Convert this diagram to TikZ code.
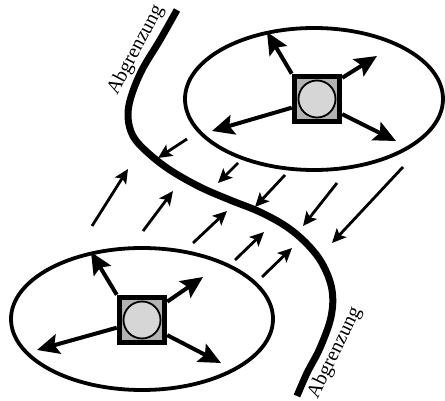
\documentclass[tikz,border=0pt]{standalone}
\usepackage{fontspec}
\setmainfont{Liberation Serif}
\usetikzlibrary{arrows.meta}
\begin{document}
\begin{tikzpicture}[x=1pt,y=-1pt,
  zone/.style={draw,line width=3.8pt},
  cell/.style={draw,line width=5.5pt,fill=gray!60,minimum size=45pt,inner sep=0pt,
    path picture={\draw[line width=1.8pt,fill=gray!32] (path picture bounding box.center) circle (18.5pt);}},
  push/.style={line width=4pt,-{Stealth[length=22pt,width=20pt,inset=4pt]}},
  flow/.style={line width=2.8pt,-{Stealth[length=14pt,width=13pt,inset=3pt]}},
  tag/.style={font=\fontsize{20}{20}\selectfont,inner sep=0pt}]
\useasboundingbox (0,0) rectangle (445,401);

% regions
\draw[zone] (314,99) ellipse [x radius=129, y radius=71];
\draw[zone] (142,319) ellipse [x radius=131, y radius=71];

% boundary line
\draw[line width=7pt] plot[smooth,tension=0.6] coordinates {
  (177,10) (160,40) (142,70) (131,97) (128,117) (133,136) (147,152)
  (170,170) (200,187) (230,200) (260,212) (287,227) (308,245)
  (323,265) (332,290) (331,317) (320,348) (307,373) (297,396)};

\node[tag,rotate=62] (lt) at (136,50) {Abgrenzung};
\node[tag,rotate=64] (lb) at (335,353) {Abgrenzung};

% centres with their outward pushes
\node[cell] (ba) at (317,99) {};
\node[cell] (bb) at (142,320) {};

\coordinate (a1) at (267,32);
\coordinate (a2) at (377,56);
\coordinate (a3) at (212,131);
\coordinate (a4) at (396,141);
\draw[push] (ba.135) -- (a1);
\draw[push] (ba.40) -- (a2);
\draw[push] (ba.199) -- (a3);
\draw[push] (ba.-31) -- (a4);

\coordinate (b1) at (91,252);
\coordinate (b2) at (203,277);
\coordinate (b3) at (37,350);
\coordinate (b4) at (221,363);
\draw[push] (bb.135) -- (b1);
\draw[push] (bb.36) -- (b2);
\draw[push] (bb.197) -- (b3);
\draw[push] (bb.-31) -- (b4);

% pressure across the boundary
\coordinate (d1s) at (187,139); \coordinate (d1e) at (158,158);
\coordinate (d2s) at (238,163); \coordinate (d2e) at (218,183);
\coordinate (d3s) at (285,175); \coordinate (d3e) at (255,207);
\coordinate (d4s) at (337,183); \coordinate (d4e) at (303,226);
\coordinate (d5s) at (403,167); \coordinate (d5e) at (332,243);
\foreach \i in {1,...,5} \draw[flow] (d\i s) -- (d\i e);

\coordinate (u1s) at (92,226);  \coordinate (u1e) at (128,169);
\coordinate (u2s) at (143,231); \coordinate (u2e) at (173,191);
\coordinate (u3s) at (193,243); \coordinate (u3e) at (227,211);
\coordinate (u4s) at (235,260); \coordinate (u4e) at (264,232);
\coordinate (u5s) at (262,277); \coordinate (u5e) at (292,248);
\foreach \i in {1,...,5} \draw[flow] (u\i s) -- (u\i e);
\end{tikzpicture}
\end{document}
